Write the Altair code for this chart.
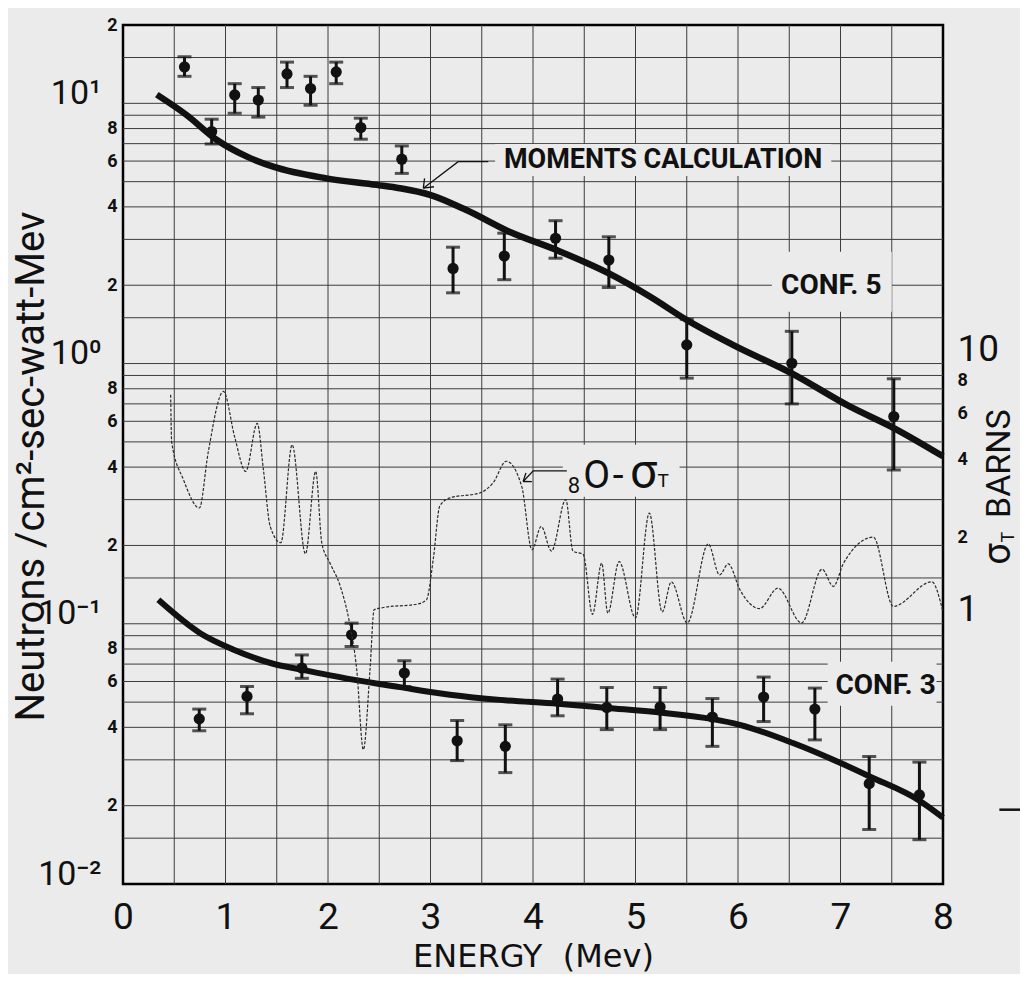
import altair as alt
import pandas as pd

# ---------------- data ----------------
# Oxygen total cross section (barns), right-hand scale
sig_E = [0.465, 0.475, 0.59, 0.745, 0.83, 0.98, 1.09, 1.197, 1.31, 1.37, 1.436, 1.54, 1.65, 1.78,
         1.88, 1.94, 2.02, 2.12, 2.21, 2.28, 2.345, 2.41, 2.45, 2.54, 2.865, 2.96, 3.03, 3.09,
         3.19, 3.48, 3.61, 3.74, 3.89, 3.99, 4.08, 4.18, 4.32, 4.39, 4.49, 4.58, 4.67, 4.73,
         4.84, 5.0, 5.135, 5.26, 5.35, 5.505, 5.71, 5.82, 5.905, 6.02, 6.21, 6.39, 6.62, 6.82,
         6.93, 7.03, 7.32, 7.515, 7.89, 8.0]
sig_b = [6.7, 4.4, 3.16, 2.46, 4.0, 6.9, 4.6, 3.4, 5.2, 3.45, 2.09, 1.81, 4.3, 1.64,
         3.4, 1.8, 1.51, 1.23, 0.89, 0.59, 0.29, 0.59, 1.0, 1.02, 1.05, 1.09, 1.6, 2.5,
         2.69, 2.81, 3.07, 3.72, 2.98, 1.70, 2.09, 1.68, 2.65, 1.68, 1.63, 0.96, 1.51, 0.97,
         1.53, 0.93, 2.35, 0.98, 1.28, 0.89, 1.79, 1.36, 1.50, 1.19, 1.01, 1.21, 0.89, 1.43,
         1.23, 1.51, 1.90, 1.03, 1.28, 0.98]

# Conf. 5 measured points
c5_E = [0.6, 0.865, 1.09, 1.32, 1.60, 1.83, 2.08, 2.32, 2.72, 3.22, 3.72, 4.22, 4.74, 5.50, 6.525, 7.52]
c5_v = [13.8, 7.79, 10.77, 10.3, 12.97, 11.4, 13.2, 8.07, 6.1, 2.32, 2.59, 3.03, 2.50, 1.18, 1.003, 0.626]
c5_lo = [12.7, 6.98, 9.16, 8.85, 11.5, 9.83, 11.9, 7.28, 5.38, 1.87, 2.10, 2.54, 1.96, 0.879, 0.70, 0.39]
c5_hi = [15.1, 8.69, 11.9, 11.5, 14.4, 12.7, 14.4, 8.77, 6.86, 2.80, 3.17, 3.54, 3.07, 1.48, 1.33, 0.874]

# Conf. 3 measured points
c3_E = [0.744, 1.21, 1.745, 2.23, 2.745, 3.26, 3.73, 4.24, 4.72, 5.24, 5.75, 6.25, 6.75, 7.28, 7.77]
c3_v = [0.0431, 0.0526, 0.0676, 0.0907, 0.0647, 0.0355, 0.0338, 0.0514, 0.0477, 0.0479, 0.0438,
        0.0523, 0.0470, 0.0243, 0.0220]
c3_lo = [0.0388, 0.0451, 0.0617, 0.0818, 0.0574, 0.0298, 0.0268, 0.0443, 0.0392, 0.0392, 0.0338,
         0.0421, 0.0358, 0.0162, 0.0148]
c3_hi = [0.047, 0.0574, 0.0759, 0.1006, 0.0721, 0.0425, 0.0409, 0.0613, 0.0569, 0.0569, 0.0516,
         0.0624, 0.0566, 0.0309, 0.0294]

# Moments calculation curves
m5_E = [0.33, 0.62, 0.916, 1.21, 1.465, 1.985, 2.475, 2.70, 2.995, 3.35, 3.77, 4.23, 4.74, 5.14,
        5.50, 5.95, 6.52, 7.09, 7.52, 8.0]
m5_v = [10.8, 9.02, 7.23, 6.24, 5.71, 5.15, 4.86, 4.72, 4.45, 3.89, 3.21, 2.73, 2.22, 1.81,
        1.47, 1.18, 0.919, 0.684, 0.565, 0.44]
m3_E = [0.345, 0.753, 1.08, 1.465, 1.745, 2.215, 2.70, 3.19, 3.68, 4.24, 4.72, 5.24, 5.756, 6.017,
        6.536, 7.023, 7.284, 7.771, 8.0]
m3_v = [0.1236, 0.092, 0.0795, 0.0702, 0.0666, 0.0613, 0.0571, 0.0534, 0.051, 0.0493, 0.0475,
        0.0456, 0.0430, 0.0409, 0.0348, 0.0289, 0.0259, 0.0209, 0.0180]

# axes / grid
x_ticks = [0, 1, 2, 3, 4, 5, 6, 7, 8]
x_grid = [0.5, 1, 1.5, 2, 2.5, 3, 3.5, 4, 4.5, 5, 5.5, 6, 6.5, 7, 7.5]
y_ticks = [0.01, 0.02, 0.04, 0.06, 0.08, 0.1, 0.2, 0.4, 0.6, 0.8, 1, 2, 4, 6, 8, 10, 20]
y_grid = [m * d for d in (0.01, 0.1, 1) for m in (1.5, 2, 3, 4, 5, 6, 7, 8, 9, 10)] + [15]
r_ticks = [1, 2, 4, 6, 8, 10]

# annotations
notes_text = ["MOMENTS CALCULATION", "CONF. 5", "CONF. 3"]
notes_E = [3.716, 6.91, 7.44]
notes_v = [6.06, 1.99, 0.0578]
blank_E1 = [3.63, 6.33, 6.875, 4.29]
blank_E2 = [6.91, 7.50, 7.937, 5.43]
blank_v1 = [5.26, 1.58, 0.0484, 0.3077]
blank_v2 = [6.98, 2.69, 0.0714, 0.488]
arrow_seg = [0, 0, 0, 1, 1, 2, 2, 3, 3, 3, 4, 4, 5, 5, 6, 6]
arrow_E = [3.563, 3.27, 2.93, 2.93, 2.942, 2.93, 3.034, 4.33, 4.002, 3.904, 3.904, 3.931, 3.904, 3.989,
           8.55, 8.82]
arrow_v = [5.97, 5.97, 4.72, 4.72, 5.15, 4.72, 4.78, 0.3870, 0.3870, 0.3521, 0.3521, 0.3802, 0.3521,
           0.3516, 0.0193, 0.0193]
# "8O-σT" label glyphs (baseline positions)
lab_t = ["8", "O", "-", "\u03c3", "T"]
lab_E = [4.40, 4.62, 4.83, 5.08, 5.27]
lab_v = [0.3187, 0.333, 0.333, 0.333, 0.336]
lab_s = [22, 39, 39, 48, 19]

# ---------------- styling ----------------
BG = "#ebebeb"
INK = "#111111"
GRID = "#3c3c3c"
LET = "Roboto, 'DejaVu Sans', sans-serif"
WIDE = "'DejaVu Sans', sans-serif"

XS = alt.Scale(domain=[0, 8], nice=False, zero=False)
YS = alt.Scale(type="log", domain=[0.01, 20], nice=False)
RS = alt.Scale(type="log", domain=[0.0883, 176.6], nice=False)

DEC = "datum.value == 10 || datum.value == 1 || abs(datum.value - 0.1) < 1e-9 || abs(datum.value - 0.01) < 1e-9"
AX_X = alt.Axis(values=x_ticks, grid=False, domain=False, ticks=False, labelFont=LET,
                labelFontSize=37, labelFontWeight="normal", labelColor=INK, labelPadding=15,
                labelBaseline="top", labelFlush=False, labelOverlap=False,
                title="ENERGY\u00a0\u00a0(Mev)", titleFont=WIDE, titleFontSize=32,
                titleFontWeight="normal", titleColor=INK, titleY=72, titleBaseline="middle")
AX_Y = alt.Axis(values=y_ticks, grid=False, domain=False, ticks=False, labelOverlap=False,
                labelFlush=False, labelColor=INK, labelFont=LET,
                labelExpr=("datum.value == 10 ? '10\u00b9' : datum.value == 1 ? '10\u2070' : "
                           "abs(datum.value - 0.1) < 1e-9 ? '10\u207b\u00b9' : "
                           "abs(datum.value - 0.01) < 1e-9 ? '10\u207b\u00b2' : "
                           "format(datum.value / pow(10, floor(log(datum.value) / LN10 + 1e-6)), 'd')"),
                labelFontSize={"condition": {"test": DEC, "value": 34}, "value": 18},
                labelFontWeight={"condition": {"test": DEC, "value": "normal"}, "value": "bold"},
                labelPadding={"condition": {"test": DEC, "value": 22}, "value": 6},
                labelBaseline={"condition": {"test": DEC, "value": "alphabetic"}, "value": "middle"},
                title="Neutrons /cm\u00b2-sec-watt-Mev", titleFont=LET, titleFontSize=40,
                titleFontWeight="normal", titleColor=INK, titleX=-92, titleY=441, titleAngle=270,
                titleAlign="center", titleBaseline="middle")
RBIG = "datum.value == 1 || datum.value == 10"
AX_R = alt.Axis(values=r_ticks, orient="right", grid=False, domain=False, ticks=False,
                labelOverlap=False, labelFlush=False, labelColor=INK, labelFont=LET,
                labelExpr="'' + datum.value",
                labelFontSize={"condition": {"test": RBIG, "value": 37}, "value": 18},
                labelFontWeight={"condition": {"test": RBIG, "value": "normal"}, "value": "bold"},
                labelOffset={"condition": {"test": RBIG, "value": 0}, "value": 6},
                labelPadding=14, labelBaseline="middle", title=None)

x_enc = alt.X("E:Q", scale=XS, axis=AX_X)
y_enc = alt.Y("v:Q", scale=YS, axis=AX_Y)

# ---------------- layers ----------------
hgrid = alt.Chart(pd.DataFrame({"v": y_grid})).mark_rule(color=GRID, strokeWidth=1).encode(y=y_enc)
vgrid = alt.Chart(pd.DataFrame({"E": x_grid})).mark_rule(color=GRID, strokeWidth=1).encode(x=x_enc)

blanks = alt.Chart(pd.DataFrame({"E": blank_E1, "E2": blank_E2, "v": blank_v1, "v2": blank_v2})).mark_rect(
    fill=BG).encode(x=x_enc, x2="E2:Q", y=y_enc, y2="v2:Q")

curve5 = alt.Chart(pd.DataFrame({"E": m5_E, "v": m5_v})).mark_line(
    color=INK, strokeWidth=6.5, interpolate="monotone").encode(x=x_enc, y=y_enc)
curve3 = alt.Chart(pd.DataFrame({"E": m3_E, "v": m3_v})).mark_line(
    color=INK, strokeWidth=6, interpolate="monotone").encode(x=x_enc, y=y_enc)

pts = pd.DataFrame({"E": c5_E + c3_E, "v": c5_v + c3_v, "lo": c5_lo + c3_lo, "hi": c5_hi + c3_hi})
base_pts = alt.Chart(pts)
bars = base_pts.mark_rule(color=INK, strokeWidth=3).encode(
    x=x_enc, y=alt.Y("lo:Q", scale=YS, axis=AX_Y), y2="hi:Q")
cap_lo = base_pts.mark_tick(color=INK, orient="horizontal", size=14, thickness=3).encode(
    x=x_enc, y=alt.Y("lo:Q", scale=YS, axis=AX_Y))
cap_hi = base_pts.mark_tick(color=INK, orient="horizontal", size=14, thickness=3).encode(
    x=x_enc, y=alt.Y("hi:Q", scale=YS, axis=AX_Y))
dots = base_pts.mark_point(filled=True, color=INK, size=125, opacity=1).encode(x=x_enc, y=y_enc)

arrows = alt.Chart(pd.DataFrame({"E": arrow_E[:-2], "v": arrow_v[:-2], "seg": arrow_seg[:-2],
                                 "o": list(range(len(arrow_E) - 2))})).mark_line(
    color=INK, strokeWidth=1.3).encode(x=x_enc, y=y_enc, detail="seg:N", order="o:Q")
stray = alt.Chart(pd.DataFrame({"E": arrow_E[-2:], "v": arrow_v[-2:]})).mark_line(
    color=INK, strokeWidth=2.5, clip=False).encode(x=x_enc, y=y_enc)

notes = alt.Chart(pd.DataFrame({"E": notes_E, "v": notes_v, "t": notes_text}))
notes_left = notes.transform_filter("datum.t == 'MOMENTS CALCULATION'").mark_text(
    font=LET, fontSize=27, fontWeight="bold", color=INK, align="left", baseline="middle"
).encode(x=x_enc, y=y_enc, text="t:N")
notes_other = notes.transform_filter("datum.t != 'MOMENTS CALCULATION'").mark_text(
    font=LET, fontSize=28, fontWeight="bold", color=INK, align="center", baseline="middle"
).encode(x=x_enc, y=y_enc, text="t:N")

lab = alt.Chart(pd.DataFrame({"E": lab_E, "v": lab_v, "t": lab_t, "s": lab_s})).mark_text(
    font=LET, color=INK, align="center", baseline="alphabetic").encode(
    x=x_enc, y=y_enc, text="t:N", size=alt.Size("s:Q", scale=None, legend=None))

left = alt.layer(hgrid, vgrid, blanks, curve5, curve3, bars, cap_lo, cap_hi, dots, arrows,
                 stray, notes_left, notes_other, lab)

sigma = alt.Chart(pd.DataFrame({"E": sig_E, "b": sig_b})).mark_line(
    color="#2a2a2a", strokeWidth=1.2, strokeDash=[3, 1.6], interpolate="monotone").encode(
    x=x_enc, y=alt.Y("b:Q", scale=RS, axis=AX_R))

# right-hand title  (sigma_T BARNS), rotated
rt = pd.DataFrame({"t": ["\u03c3", "T", "BARNS"]})
rt_sigma = alt.Chart(rt).transform_filter("datum.t == '\u03c3'").mark_text(
    font=LET, fontSize=38, color=INK, angle=270, align="center", baseline="middle"
).encode(x=alt.value(876), y=alt.value(529), text="t:N")
rt_T = alt.Chart(rt).transform_filter("datum.t == 'T'").mark_text(
    font=LET, fontSize=18, color=INK, angle=270, align="center", baseline="middle"
).encode(x=alt.value(886), y=alt.value(512), text="t:N")
rt_B = alt.Chart(rt).transform_filter("datum.t == 'BARNS'").mark_text(
    font=LET, fontSize=34, color=INK, angle=270, align="left", baseline="middle"
).encode(x=alt.value(877), y=alt.value(493), text="t:N")

chart = alt.layer(left, sigma, rt_sigma, rt_T, rt_B).resolve_scale(y="independent").properties(
    width=820, height=859,
    padding={"left": 115, "top": 17, "right": 77, "bottom": 90},
    autosize=alt.AutoSizeParams(type="none"),
).configure(background=BG).configure_view(stroke="black", strokeWidth=2.5, fill=BG)

chart.save("out.html", embed_options={"renderer": "svg", "actions": False})
